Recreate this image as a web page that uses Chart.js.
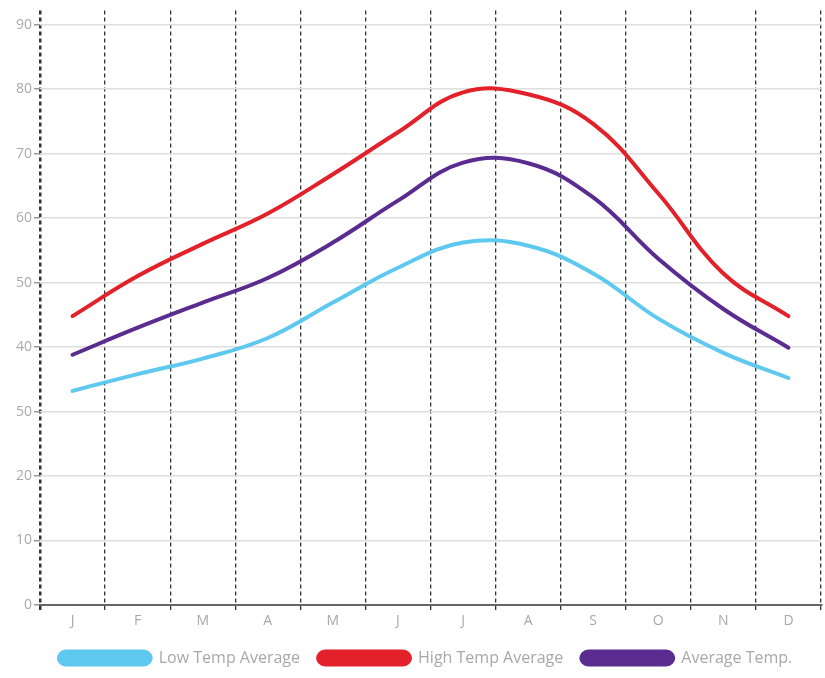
<!DOCTYPE html>
<html>
<head>
<meta charset="utf-8">
<script src="https://cdn.jsdelivr.net/npm/chart.js@4"></script>
<style>
  html, body { margin: 0; padding: 0; background: #fff; }
  #wrap { width: 825px; height: 678px; }
</style>
</head>
<body>
<div id="wrap"><canvas id="grafico" width="825" height="678"></canvas></div>
<script>
// datos del grafico
const months = ["J", "F", "M", "A", "M", "J", "J", "A", "S", "O", "N", "D"];
const lowTemp = [33.2, 35.8, 38.2, 41.4, 46.9, 52.3, 56.2, 55.7, 51.4, 44.4, 39.1, 35.2];
const highTemp = [44.8, 51, 56, 60.7, 66.8, 73.3, 79.5, 79.2, 74.6, 63.8, 51.4, 44.8];
const avgTemp = [38.8, 43, 46.9, 50.7, 56.2, 62.7, 68.6, 68.5, 63.2, 53.7, 45.9, 39.9];
const yTickValues = [0, 10, 20, 30, 40, 50, 60, 70, 80, 90];
const yTickLabels = ["0", "10", "20", "50", "40", "50", "60", "70", "80", "90"];

const seriesNames = ["Low Temp Average", "High Temp Average", "Average Temp."];
const seriesColors = ["#5ec8ef", "#e3212b", "#5b2c8f"];

const canvas = document.getElementById("grafico");
const fontName = "'Open Sans', sans-serif";

const makeSet = (i, data) => ({
  label: seriesNames[i],
  data: data,
  borderColor: seriesColors[i],
  backgroundColor: seriesColors[i],
  borderWidth: 4,
  pointRadius: 0,
  tension: 0.4,
  borderCapStyle: "round",
  fill: false,
});

// corre la leyenda un poco a la derecha, como en el original
const moverLeyenda = {
  id: "moverLeyenda",
  afterLayout(chart) {
    chart.legend.left += 15;
    chart.legend.right += 15;
  },
};

const config = {
  type: "line",
  data: {
    labels: months,
    datasets: [makeSet(0, lowTemp), makeSet(1, highTemp), makeSet(2, avgTemp)],
  },
  options: {
    responsive: false,
    animation: false,
    layout: { padding: { top: 8, right: 4, left: 0, bottom: 2 } },
    plugins: {
      tooltip: { enabled: false },
      legend: {
        position: "bottom",
        labels: {
          boxWidth: 92,
          boxHeight: 13,
          useBorderRadius: true,
          borderRadius: 7,
          padding: 18,
          color: "#a8a8a8",
          font: { family: fontName, size: 16 },
        },
      },
    },
    scales: {
      x: {
        offset: true,
        grid: {
          offset: true,
          color: "#333",
          lineWidth: (ctx) => (ctx.index === 0 ? 2.5 : 1.3),
          tickLength: 8,
          tickBorderDash: [4, 3],
        },
        border: { display: true, color: "#666", width: 2, dash: [4, 3] },
        ticks: {
          color: "#a8a8a8",
          padding: 0,
          font: { family: fontName, size: 14 },
        },
        afterFit: (scale) => {
          scale.height = 27;
        },
      },
      y: {
        min: 0,
        max: 92.2,
        afterBuildTicks: (scale) => {
          scale.ticks = yTickValues.map((v) => ({ value: v }));
        },
        grid: {
          color: "#dedede",
          lineWidth: 1.5,
          tickLength: 6,
          tickColor: "#999",
        },
        border: { display: false },
        ticks: {
          color: "#aaa",
          padding: 2,
          font: { family: fontName, size: 14 },
          callback: (value) => {
            const idx = yTickValues.indexOf(value);
            return idx >= 0 ? yTickLabels[idx] : "";
          },
        },
        afterFit: (scale) => {
          scale.width = 40;
        },
      },
    },
  },
  plugins: [moverLeyenda],
};

new Chart(canvas, config);
</script>
</body>
</html>
